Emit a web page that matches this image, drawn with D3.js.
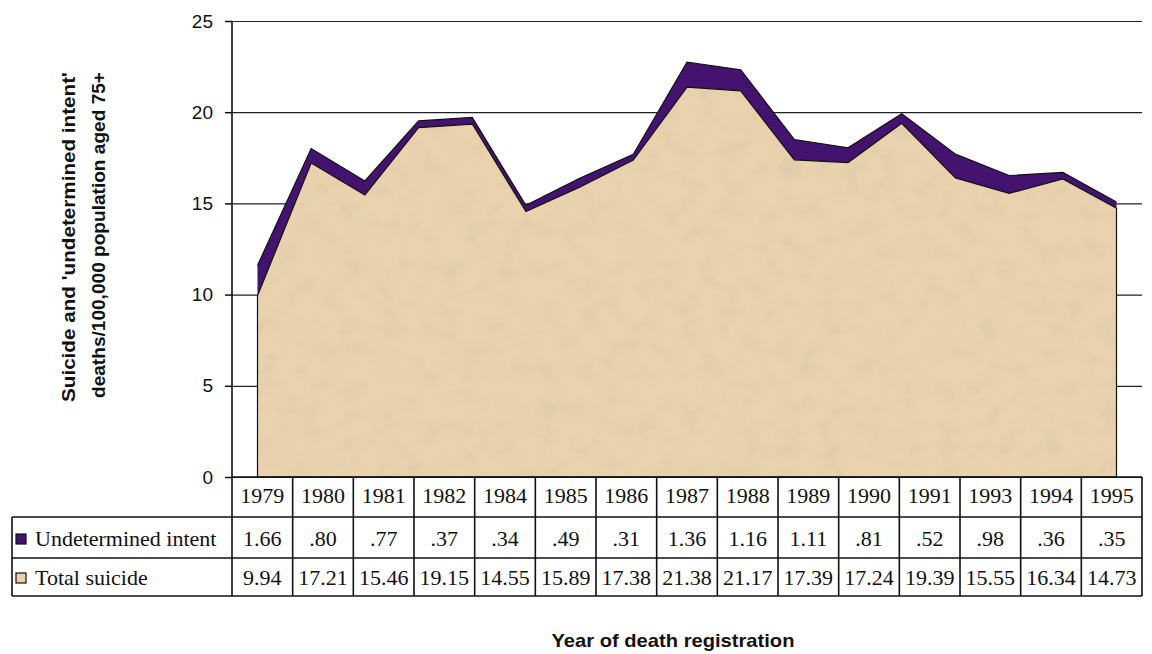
<!DOCTYPE html>
<html>
<head>
<meta charset="utf-8">
<script src="https://cdn.jsdelivr.net/npm/d3@7"></script>
<style>
  body { margin: 0; background: #fff; }
</style>
</head>
<body>
<div class="canvas"></div>
<script>
// Chart data (1983 and 1992 are plotted but not listed in the table)
const years = ['1979', '1980', '1981', '1982', '1983', '1984', '1985', '1986', '1987',
  '1988', '1989', '1990', '1991', '1992', '1993', '1994', '1995']
const totalSuicide = [9.94, 17.21, 15.46, 19.15, 19.35, 14.55, 15.89, 17.38, 21.38,
  21.17, 17.39, 17.24, 19.39, 16.4, 15.55, 16.34, 14.73]
const undetermined = [1.66, 0.80, 0.77, 0.37, 0.36, 0.34, 0.49, 0.31, 1.36,
  1.16, 1.11, 0.81, 0.52, 1.3, 0.98, 0.36, 0.35]

// Columns shown in the data table
const tableYears = ['1979', '1980', '1981', '1982', '1984', '1985', '1986', '1987',
  '1988', '1989', '1990', '1991', '1993', '1994', '1995']
const undeterminedLabels = ['1.66', '.80', '.77', '.37', '.34', '.49', '.31', '1.36',
  '1.16', '1.11', '.81', '.52', '.98', '.36', '.35']
const totalLabels = ['9.94', '17.21', '15.46', '19.15', '14.55', '15.89', '17.38', '21.38',
  '21.17', '17.39', '17.24', '19.39', '15.55', '16.34', '14.73']

const seriesNames = ['Undetermined intent', 'Total suicide']
const yTicks = [0, 5, 10, 15, 20, 25]

const purple = '#43136f'
const tan = '#ead2ae'

const width = 1152
const height = 654
const plot = {left: 232, right: 1142, top: 21, bottom: 477}

const svg = d3.select('.canvas')
  .append('svg')
    .attr('width', width)
    .attr('height', height)

// paper-like grain for the tan area
const defs = svg.append('defs')
const grain = defs.append('filter')
  .attr('id', 'grain')
  .attr('x', 0).attr('y', 0).attr('width', 1).attr('height', 1)
grain.append('feTurbulence')
  .attr('type', 'fractalNoise')
  .attr('baseFrequency', 0.05)
  .attr('numOctaves', 4)
  .attr('seed', 7)
  .attr('result', 'noise')
grain.append('feColorMatrix')
  .attr('in', 'noise')
  .attr('type', 'matrix')
  .attr('values', '0 0 0 0 0.70  0 0 0 0 0.58  0 0 0 0 0.40  2.2 0 0 0 -0.9')
  .attr('result', 'tint')
grain.append('feComposite')
  .attr('in', 'tint')
  .attr('in2', 'SourceGraphic')
  .attr('operator', 'in')

const x = d3.scalePoint()
  .domain(years)
  .range([plot.left, plot.right])
  .padding(0.475)

const y = d3.scaleLinear()
  .domain([0, 25])
  .range([plot.bottom, plot.top])

const col = d3.scaleBand()
  .domain(tableYears)
  .range([plot.left, plot.right])

// gridlines
svg.append('g')
  .attr('transform', `translate(${plot.left},0)`)
  .call(d3.axisLeft(y).tickValues(yTicks).tickSize(-(plot.right - plot.left)).tickFormat(''))
  .call(g => g.select('.domain').remove())
  .call(g => g.selectAll('line').attr('stroke', '#222').attr('stroke-width', 1.2))

// stacked areas
const rows = years.map((yr, i) => ({year: yr, total: totalSuicide[i], undet: undetermined[i]}))

const areaTotal = d3.area()
  .x(d => x(d.year))
  .y0(y(0))
  .y1(d => y(d.total))

const areaUndet = d3.area()
  .x(d => x(d.year))
  .y0(d => y(d.total))
  .y1(d => y(d.total + d.undet))

svg.append('path')
  .datum(rows)
  .attr('d', areaTotal)
  .attr('fill', tan)

svg.append('path')
  .datum(rows)
  .attr('d', areaTotal)
  .attr('fill', '#000')
  .attr('filter', 'url(#grain)')
  .attr('opacity', 0.6)

svg.append('path')
  .datum(rows)
  .attr('d', areaUndet)
  .attr('fill', purple)

// outlines
svg.append('path')
  .datum(rows)
  .attr('d', areaTotal)
  .attr('fill', 'none')
  .attr('stroke', '#111')
  .attr('stroke-width', 1.2)

svg.append('path')
  .datum(rows)
  .attr('d', d3.line().x(d => x(d.year)).y(d => y(d.total + d.undet)))
  .attr('fill', 'none')
  .attr('stroke', '#111')
  .attr('stroke-width', 1.2)

// y axis
svg.append('g')
  .attr('transform', `translate(${plot.left},0)`)
  .call(d3.axisLeft(y).tickValues(yTicks).tickSize(7).tickPadding(12))
  .call(g => g.select('.domain').remove())
  .call(g => g.selectAll('line').attr('stroke', '#111').attr('stroke-width', 1.5))
  .call(g => g.selectAll('text')
    .attr('font-family', 'Liberation Sans, Arial, sans-serif')
    .attr('font-size', 19)
    .attr('fill', '#111'))

// data table
const rowY = [plot.bottom, 517, 558, 596]
const labelLeft = 12
const table = svg.append('g')
  .attr('stroke', '#111')
  .attr('stroke-width', 1.6)

// vertical axis line running down into the table
table.append('line')
  .attr('x1', plot.left).attr('x2', plot.left)
  .attr('y1', plot.top).attr('y2', rowY[3])

table.selectAll('.hline')
  .data([0, 1, 2, 3])
  .enter()
  .append('line')
    .attr('x1', i => i === 0 ? plot.left : labelLeft)
    .attr('x2', plot.right)
    .attr('y1', i => rowY[i])
    .attr('y2', i => rowY[i])

table.selectAll('.vline')
  .data(tableYears)
  .enter()
  .append('line')
    .attr('x1', d => col(d) + col.bandwidth())
    .attr('x2', d => col(d) + col.bandwidth())
    .attr('y1', rowY[0])
    .attr('y2', rowY[3])

table.append('line')
  .attr('x1', labelLeft).attr('x2', labelLeft)
  .attr('y1', rowY[1]).attr('y2', rowY[3])

const serif = 'Liberation Serif, Times New Roman, serif'

const cellText = (labels, baseline) => {
  svg.append('g')
    .selectAll('text')
    .data(labels)
    .enter()
    .append('text')
      .attr('x', (d, i) => col(tableYears[i]) + col.bandwidth() / 2)
      .attr('y', baseline)
      .attr('text-anchor', 'middle')
      .attr('font-family', serif)
      .attr('font-size', 22)
      .attr('fill', '#111')
      .text(d => d)
}
cellText(tableYears, 503)
cellText(undeterminedLabels, 546)
cellText(totalLabels, 585)

// legend keys in the table
const keys = svg.append('g')
  .selectAll('g')
  .data(seriesNames)
  .enter()
  .append('g')
    .attr('transform', (d, i) => `translate(0, ${i === 0 ? 546 : 585})`)

keys.append('rect')
  .attr('x', 16)
  .attr('y', -12)
  .attr('width', 10)
  .attr('height', 10)
  .attr('fill', (d, i) => i === 0 ? purple : tan)
  .attr('stroke', '#111')
  .attr('stroke-width', 1.2)

keys.append('text')
  .attr('x', 35)
  .attr('font-family', serif)
  .attr('font-size', 22)
  .attr('fill', '#111')
  .text(d => d)

// axis titles
const sans = 'Liberation Sans, Arial, sans-serif'
const yTitle = svg.append('g')
  .attr('transform', 'translate(0, 237) rotate(-90)')
  .attr('font-family', sans)
  .attr('font-weight', 'bold')
  .attr('font-size', 18)
  .attr('text-anchor', 'middle')
  .attr('fill', '#111')

yTitle.append('text')
  .attr('x', 0).attr('y', 75)
  .attr('textLength', 330)
  .attr('lengthAdjust', 'spacingAndGlyphs')
  .text("Suicide and 'undetermined intent'")

yTitle.append('text')
  .attr('x', 2).attr('y', 105)
  .attr('textLength', 326)
  .attr('lengthAdjust', 'spacingAndGlyphs')
  .text('deaths/100,000 population aged 75+')

svg.append('text')
  .attr('x', 673)
  .attr('y', 647)
  .attr('text-anchor', 'middle')
  .attr('font-family', sans)
  .attr('font-weight', 'bold')
  .attr('font-size', 19)
  .attr('textLength', 243)
  .attr('lengthAdjust', 'spacingAndGlyphs')
  .attr('fill', '#111')
  .text('Year of death registration')
</script>
</body>
</html>
